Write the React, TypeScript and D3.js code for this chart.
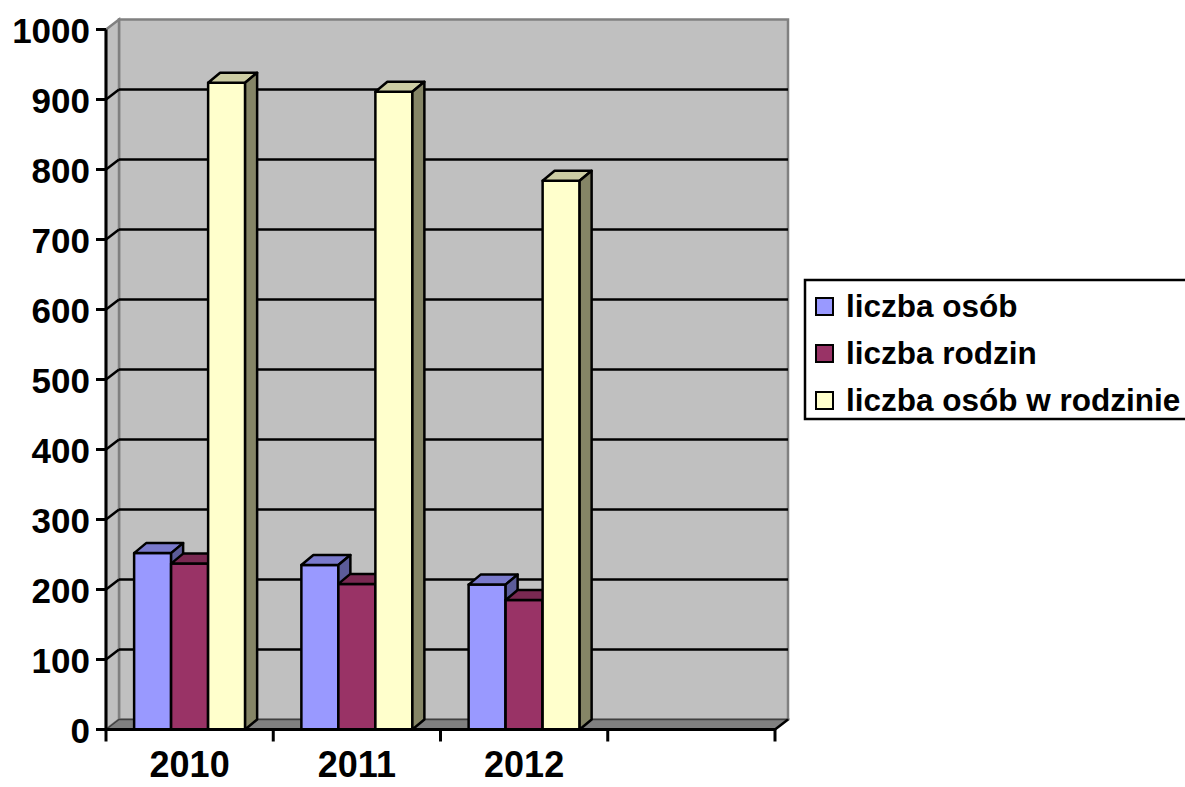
import React from "react";
import * as d3 from "d3";

const categories = ["2010", "2011", "2012", ""];
const seriesNames = ["liczba osób", "liczba rodzin", "liczba osób w rodzinie"];
const liczbaOsob = [252, 235, 207];
const liczbaRodzin = [237, 208, 185];
const liczbaOsobWRodzinie = [924, 911, 784];
const yTicks = [0, 100, 200, 300, 400, 500, 600, 700, 800, 900, 1000];

const seriesValues = [liczbaOsob, liczbaRodzin, liczbaOsobWRodzinie];
const frontColors = ["#9999FF", "#993366", "#FFFFCC"];
const topColors = ["#7A7ACC", "#7A2952", "#CCCCA3"];
const sideColors = ["#5C5C99", "#5C1F3D", "#858566"];

const W = 1185;
const H = 787;
const x0 = 106;
const x1 = 775;
const yBottom = 729.5;
const yTop = 29.5;
const wallDx = 13;
const wallDy = -10;
const barDx = 12;
const barDy = -10;
const FONT = "'Liberation Sans', Arial, sans-serif";

export default function App() {
  const x = d3.scaleBand<string>().domain(categories.map((c, i) => String(i))).range([x0, x1]).padding(0);
  const inner = d3
    .scaleBand<string>()
    .domain(seriesNames)
    .range([0, x.bandwidth()])
    .paddingInner(0)
    .paddingOuter(0.76);
  const y = d3.scaleLinear().domain([0, 1000]).range([yBottom, yTop]);

  const pts = (arr: number[][]) => arr.map((p) => p.join(",")).join(" ");

  const bars: React.ReactNode[] = [];
  categories.forEach((cat, ci) => {
    seriesNames.forEach((s, si) => {
      const v = seriesValues[si][ci];
      if (v === undefined) return;
      const bx = (x(String(ci)) as number) + (inner(s) as number);
      const bw = inner.bandwidth();
      const by = y(v);
      const key = `${ci}-${si}`;
      bars.push(
        <g key={key} stroke="#000" strokeWidth={2.5} strokeLinejoin="round">
          <rect x={bx} y={by} width={bw} height={yBottom - by} fill={frontColors[si]} />
          <polygon
            points={pts([
              [bx, by],
              [bx + barDx, by + barDy],
              [bx + bw + barDx, by + barDy],
              [bx + bw, by],
            ])}
            fill={topColors[si]}
          />
          <polygon
            points={pts([
              [bx + bw, by],
              [bx + bw + barDx, by + barDy],
              [bx + bw + barDx, yBottom + barDy],
              [bx + bw, yBottom],
            ])}
            fill={sideColors[si]}
          />
        </g>
      );
    });
  });

  return (
    <div style={{ position: "absolute", left: 0, top: 0 }}>
      <svg width={W} height={H} style={{ display: "block", background: "#fff" }}>
        {/* back wall */}
        <rect
          x={x0 + wallDx}
          y={yTop + wallDy}
          width={x1 - x0}
          height={yBottom - yTop}
          fill="#C0C0C0"
          stroke="#808080"
          strokeWidth={2.5}
        />
        {/* side wall */}
        <polygon
          points={pts([
            [x0, yTop],
            [x0 + wallDx, yTop + wallDy],
            [x0 + wallDx, yBottom + wallDy],
            [x0, yBottom],
          ])}
          fill="#C0C0C0"
          stroke="#808080"
          strokeWidth={2.5}
        />
        {/* gridlines */}
        {yTicks
          .filter((t) => t > 0 && t < 1000)
          .map((t) => (
            <g key={t} stroke="#000" strokeWidth={2.5}>
              <line x1={x0 + wallDx} x2={x1 + wallDx} y1={y(t) + wallDy} y2={y(t) + wallDy} />
              <line x1={x0} x2={x0 + wallDx} y1={y(t)} y2={y(t) + wallDy} />
            </g>
          ))}
        {/* floor */}
        <polygon
          points={pts([
            [x0, yBottom],
            [x0 + wallDx, yBottom + wallDy],
            [x1 + wallDx, yBottom + wallDy],
            [x1, yBottom],
          ])}
          fill="#808080"
          stroke="#404040"
          strokeWidth={1.5}
        />
        <line x1={x1} y1={yBottom} x2={x1 + wallDx} y2={yBottom + wallDy} stroke="#000" strokeWidth={2.5} />
        {bars}
        {/* axes */}
        <line x1={x0} x2={x0} y1={yTop} y2={yBottom} stroke="#000" strokeWidth={3} />
        <line x1={x0} x2={x1} y1={yBottom} y2={yBottom} stroke="#000" strokeWidth={3} />
        {yTicks.map((t) => (
          <g key={t}>
            <line x1={x0 - 10} x2={x0} y1={y(t)} y2={y(t)} stroke="#000" strokeWidth={3} />
            <text
              x={90}
              y={y(t) + 13}
              textAnchor="end"
              fontFamily={FONT}
              fontWeight="bold"
              fontSize={35}
              fill="#000"
            >
              {t}
            </text>
          </g>
        ))}
        {categories.map((c, i) => (
          <line
            key={"t" + i}
            x1={x(String(i)) as number}
            x2={x(String(i)) as number}
            y1={yBottom}
            y2={yBottom + 12}
            stroke="#000"
            strokeWidth={3}
          />
        ))}
        <line x1={x1} x2={x1} y1={yBottom} y2={yBottom + 12} stroke="#000" strokeWidth={3} />
        {categories.map((c, i) => (
          <text
            key={"c" + i}
            x={(x(String(i)) as number) + x.bandwidth() / 2}
            y={777}
            textAnchor="middle"
            fontFamily={FONT}
            fontWeight="bold"
            fontSize={36}
            fill="#000"
          >
            {c}
          </text>
        ))}
        {/* legend */}
        <rect x={805} y={280} width={420} height={139} fill="#fff" stroke="#000" strokeWidth={2.5} />
        {seriesNames.map((s, i) => (
          <g key={s}>
            <rect
              x={816}
              y={298 + i * 47}
              width={17}
              height={17}
              fill={frontColors[i]}
              stroke="#000"
              strokeWidth={2}
            />
            <text
              x={846}
              y={317 + i * 47}
              fontFamily={FONT}
              fontWeight="bold"
              fontSize={31.5}
              fill="#000"
            >
              {s}
            </text>
          </g>
        ))}
      </svg>
    </div>
  );
}
